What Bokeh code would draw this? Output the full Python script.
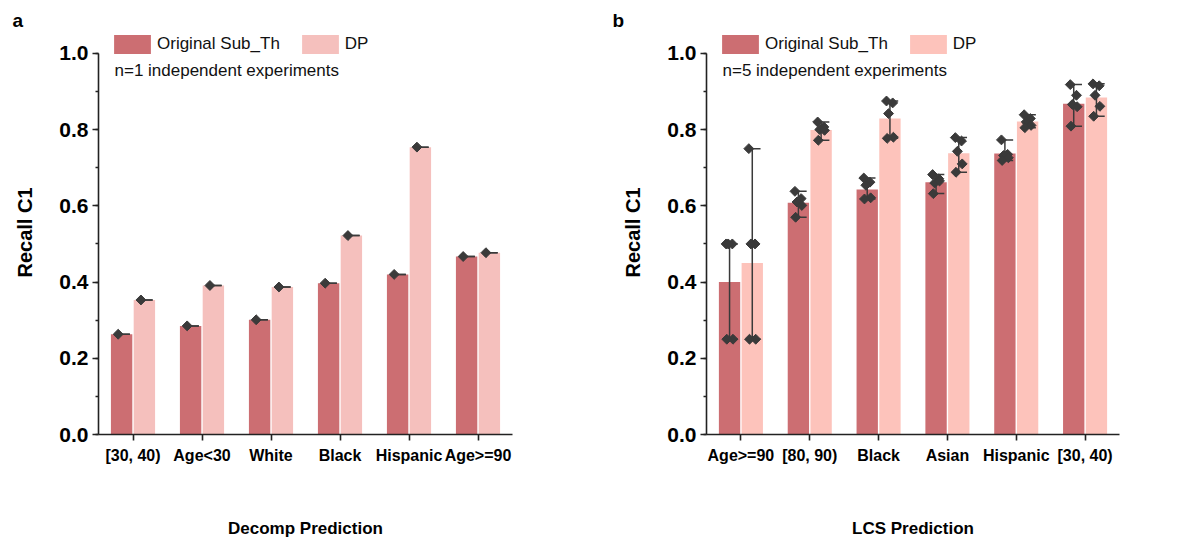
from bokeh.plotting import figure
from bokeh.layouts import row
from bokeh.models import (Range1d, FixedTicker, SingleIntervalTicker, NumeralTickFormatter,
                          Legend, LegendItem, Label, Title)
from bokeh.embed import file_html
from bokeh.resources import INLINE

# panel a: Decomp prediction (n=1)
cats_a = ["[30, 40)", "Age<30", "White", "Black", "Hispanic", "Age>=90"]
orig_a = [0.263, 0.285, 0.301, 0.397, 0.420, 0.467]
dp_a = [0.353, 0.391, 0.387, 0.522, 0.754, 0.477]

# panel b: LCS prediction (n=5)
cats_b = ["Age>=90", "[80, 90)", "Black", "Asian", "Hispanic", "[30, 40)"]
orig_b = [0.400, 0.608, 0.643, 0.662, 0.737, 0.868]
dp_b = [0.450, 0.799, 0.829, 0.738, 0.821, 0.884]
orig_b_runs = [
    [0.50, 0.50, 0.50, 0.25, 0.25],
    [0.638, 0.619, 0.610, 0.601, 0.570],
    [0.673, 0.662, 0.654, 0.621, 0.618],
    [0.682, 0.671, 0.660, 0.665, 0.632],
    [0.773, 0.735, 0.732, 0.726, 0.719],
    [0.918, 0.890, 0.866, 0.860, 0.809],
]
dp_b_runs = [
    [0.75, 0.50, 0.50, 0.25, 0.25],
    [0.820, 0.807, 0.800, 0.798, 0.772],
    [0.875, 0.870, 0.842, 0.780, 0.777],
    [0.779, 0.770, 0.743, 0.710, 0.688],
    [0.839, 0.829, 0.820, 0.811, 0.805],
    [0.920, 0.915, 0.890, 0.861, 0.835],
]

DARK = "#CC6E72"
INK = "#3a3a3a"
FONT = "Liberation Sans"
BAR_W = 0.31
OFF = 0.165
JITTER = [-0.05, 0.04, -0.02, 0.05, -0.04]
Y_TOP = 1.06  # frame goes a little above 1.0 so the legend fits inside


def make_panel(letter, cats, orig, dp, orig_runs, dp_runs, light, xlabel, note,
               border_left, border_right, frame_w):
    p = figure(frame_width=frame_w, frame_height=404,
               min_border_left=border_left, min_border_right=border_right,
               min_border_top=30, min_border_bottom=105,
               x_range=Range1d(0, len(cats)), y_range=Range1d(0, Y_TOP),
               toolbar_location=None, output_backend="svg")
    p.outline_line_color = None
    p.grid.visible = False

    t = Title(text=letter, align="left", offset=12 - border_left,
              text_font=FONT, text_font_size="19px", text_font_style="bold",
              text_color="black", standoff=0)
    p.add_layout(t, "above")

    centers = [i + 0.5 for i in range(len(cats))]
    r1 = p.vbar(x=[c - OFF for c in centers], top=orig, width=BAR_W,
                fill_color=DARK, line_color=None)
    r2 = p.vbar(x=[c + OFF for c in centers], top=dp, width=BAR_W,
                fill_color=light, line_color=None)

    for off, runs in ((-OFF, orig_runs), (OFF, dp_runs)):
        px, py, x0, x1, y0, y1 = [], [], [], [], [], []
        cx0, cx1, cy = [], [], []
        for c, vals in zip(centers, runs):
            xc = c + off
            for j, v in enumerate(vals):
                px.append(xc + JITTER[j % len(JITTER)] if len(vals) > 1 else xc - 0.05)
                py.append(v)
            lo, hi = min(vals), max(vals)
            x0.append(xc); x1.append(xc); y0.append(lo); y1.append(hi)
            for v in (lo, hi):
                cx0.append(xc); cx1.append(xc + 0.12); cy.append(v)
        p.segment(x0=x0, y0=y0, x1=x1, y1=y1, line_color=INK, line_width=1.5)
        p.segment(x0=cx0, y0=cy, x1=cx1, y1=cy, line_color=INK, line_width=1.5)
        p.scatter(x=px, y=py, marker="square", angle=0.785, size=7,
                  fill_color=INK, line_color=INK)

    for ax in (p.xaxis[0], p.yaxis[0]):
        ax.axis_line_width = 1.6
        ax.axis_line_color = "#222222"
        ax.major_tick_line_width = 1.6
        ax.major_tick_line_color = "#222222"
        ax.minor_tick_line_width = 1.4
        ax.minor_tick_line_color = "#222222"
        ax.major_tick_in = 0
        ax.major_tick_out = 6
        ax.minor_tick_in = 0
        ax.minor_tick_out = 3
        ax.major_label_text_font = FONT
        ax.major_label_text_font_style = "bold"
        ax.major_label_text_color = "black"
        ax.axis_label_text_font = FONT
        ax.axis_label_text_font_style = "bold"
        ax.axis_label_text_color = "black"

    p.xaxis.ticker = FixedTicker(ticks=centers, minor_ticks=[])
    p.xaxis.major_label_overrides = {c: name for c, name in zip(centers, cats)}
    p.xaxis.major_label_text_font_size = "16px"
    p.xaxis.major_label_standoff = 6
    p.xaxis.axis_label = xlabel
    p.xaxis.axis_label_text_font_size = "17px"
    p.xaxis.axis_label_standoff = 52

    p.yaxis.bounds = (0, 1.0)
    p.yaxis.ticker = SingleIntervalTicker(interval=0.2, num_minor_ticks=2)
    p.yaxis.formatter = NumeralTickFormatter(format="0.0")
    p.yaxis.major_label_text_font_size = "21px"
    p.yaxis.major_label_standoff = 4
    p.yaxis.axis_label = "Recall C1"
    p.yaxis.axis_label_text_font_size = "20px"
    p.yaxis.axis_label_standoff = 20

    legend = Legend(items=[LegendItem(label="Original Sub_Th", renderers=[r1]),
                           LegendItem(label="DP", renderers=[r2])],
                    location=(11, 378), orientation="horizontal",
                    glyph_width=46, glyph_height=24, label_standoff=2,
                    spacing=17, padding=0, margin=0,
                    label_text_font=FONT, label_text_font_size="17px",
                    label_text_color="#111111", label_height=24,
                    border_line_color=None, background_fill_alpha=0)
    p.add_layout(legend, "center")

    p.add_layout(Label(x=16, y=364, x_units="screen", y_units="screen", text=note,
                       text_font=FONT, text_font_size="17px", text_baseline="middle",
                       text_color="#111111"))
    return p


runs_a_orig = [[v] for v in orig_a]
runs_a_dp = [[v] for v in dp_a]

pa = make_panel("a", cats_a, orig_a, dp_a, runs_a_orig, runs_a_dp, "#F5C0BD",
                "Decomp Prediction", "n=1 independent experiments", 98, 88, 414)
pb = make_panel("b", cats_b, orig_b, dp_b, orig_b_runs, dp_b_runs, "#FDC3BB",
                "LCS Prediction", "n=5 independent experiments", 106, 72, 413)

layout = row(pa, pb)
open("out.html", "w").write(file_html(layout, INLINE))
